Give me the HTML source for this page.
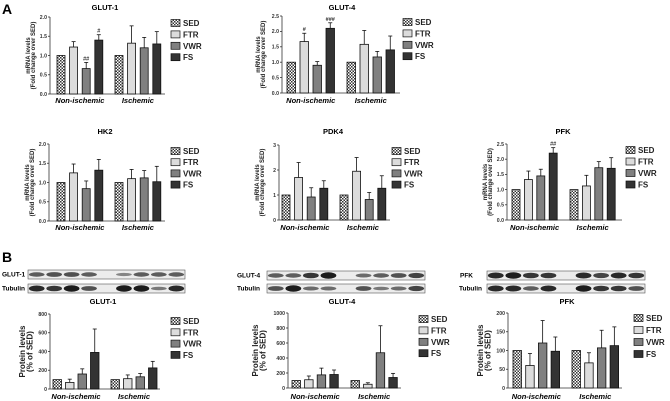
<!DOCTYPE html>
<html><head><meta charset="utf-8">
<style>
html,body{margin:0;padding:0;background:#fff;}
svg{display:block;font-family:"Liberation Sans",Arial,sans-serif;}
</style></head>
<body>
<svg id="fig" width="670" height="401" viewBox="0 0 670 401">
<defs>
<pattern id="chk" width="3" height="3" patternUnits="userSpaceOnUse">
<rect width="3" height="3" fill="#fff"/><rect width="1.5" height="1.5" fill="#333"/><rect x="1.5" y="1.5" width="1.5" height="1.5" fill="#333"/>
</pattern>
</defs>
<text x="2" y="14" font-size="14" font-weight="bold">A</text>
<text x="2" y="262" font-size="14" font-weight="bold">B</text>
</svg>
<script>
const series=['SED','FTR','VWR','FS'];
const groups=['Non-ischemic','Ischemic'];
// mRNA charts
const glut1mVal=[[1,1.22,0.66,1.40],[1,1.32,1.20,1.30]];
const glut1mErr=[[0,0.14,0.16,0.14],[0,0.45,0.27,0.32]];
const glut4mVal=[[1,1.67,0.90,2.10],[1,1.58,1.17,1.40]];
const glut4mErr=[[0,0.27,0.12,0.18],[0,0.45,0.18,0.45]];
const hk2Val=[[1,1.25,0.84,1.32],[1,1.10,1.12,1.02]];
const hk2Err=[[0,0.23,0.20,0.28],[0,0.24,0.19,0.40]];
const pdk4Val=[[1,1.70,0.92,1.27],[1,1.95,0.82,1.27]];
const pdk4Err=[[0,0.60,0.37,0.30],[0,0.55,0.28,0.50]];
const pfkmVal=[[1,1.33,1.45,2.20],[1,1.12,1.72,1.70]];
const pfkmErr=[[0,0.28,0.22,0.18],[0,0.35,0.20,0.35]];
// protein charts
const glut1pVal=[[100,70,160,390],[100,110,130,225]];
const glut1pErr=[[0,35,55,250],[0,40,35,70]];
const glut4pVal=[[100,110,175,180],[100,50,470,140]];
const glut4pErr=[[0,50,90,60],[0,20,360,55]];
const pfkpVal=[[100,60,120,98],[100,67,107,113]];
const pfkpErr=[[0,32,60,38],[0,27,47,50]];
// ticks
const ticks20=[0,0.5,1.0,1.5,2.0], ticks20L=['0.0','0.5','1.0','1.5','2.0'];
const ticks25=[0,0.5,1.0,1.5,2.0,2.5], ticks25L=['0.0','0.5','1.0','1.5','2.0','2.5'];
const ticks3=[0,1,2,3], ticks3L=['0','1','2','3'];
const ticks800=[0,200,400,600,800], ticks800L=['0','200','400','600','800'];
const ticks1000=[0,200,400,600,800,1000], ticks1000L=['0','200','400','600','800','1000'];
const ticks200=[0,50,100,150,200], ticks200L=['0','50','100','150','200'];
// annotations [group, series, text]
const glut1mAnn=[[0,2,'##'],[0,3,'#']];
const glut4mAnn=[[0,1,'#'],[0,3,'###']];
const pfkmAnn=[[0,3,'##']];

const fills=['url(#chk)','#dcdcdc','#808080','#333'];
const NS='http://www.w3.org/2000/svg';
const svg=document.getElementById('fig');
function mk(tag,attrs,parent){const e=document.createElementNS(NS,tag);for(const k in attrs)e.setAttribute(k,attrs[k]);(parent||svg).appendChild(e);return e;}

function chart(c){
  const g=mk('g',{});
  
  
  const yS=v=>c.y0-v/c.max*(c.y0-c.yTop);
  const t=mk('text',{x:c.titleX,y:c.titleY,'font-size':7.5,'font-weight':'bold','text-anchor':'middle'},g);
  t.textContent=c.title;
  
  
  const ya=mk('line',{x1:c.ax,x2:c.ax,y1:c.yTop,y2:c.y0,stroke:'#333','stroke-width':0.8},g);
  
  
  const xa=mk('line',{x1:c.ax,x2:c.xEnd,y1:c.y0,y2:c.y0,stroke:'#333','stroke-width':0.8},g);
  
  
  c.ticks.forEach((v,i)=>{
    const y=yS(v);
    mk('line',{x1:c.ax-2,x2:c.ax,y1:y,y2:y,stroke:'#333','stroke-width':0.8},g);
    const tl=mk('text',{x:c.ax-3,y:y+1.8,'font-size':5.2,'font-weight':'bold','text-anchor':'end',fill:'#333'},g);
    tl.textContent=c.tickL[i];
    
    
  });
  const cy=(c.yTop+c.y0)/2;
  c.ylab.forEach((s,i)=>{
    const yl=mk('text',{x:0,y:0,'font-size':c.ylabSize,'font-weight':'bold','text-anchor':'middle',fill:'#222',transform:`translate(${c.ylabX+i*c.ylabDx},${cy}) rotate(-90)`},g);
    yl.textContent=s;
    
    
  });
  c.vals.forEach((grp,gi)=>{
    const gx=c.gx[gi];
    grp.forEach((v,si)=>{
      const x=gx+si*c.step, y=yS(v), e=c.errs[gi][si];
      if(e>0){
        const ye=yS(v+e);
        mk('line',{x1:x+c.bw/2,x2:x+c.bw/2,y1:y,y2:ye,stroke:'#111','stroke-width':0.8},g);
        mk('line',{x1:x+c.bw/2-2,x2:x+c.bw/2+2,y1:ye,y2:ye,stroke:'#111','stroke-width':0.8},g);
      }
      const r=mk('rect',{x:x,y:y,width:c.bw,height:c.y0-y,fill:fills[si],stroke:'#111','stroke-width':0.8},g);
      
      
    });
    const gl=mk('text',{x:gx+1.5*c.step+c.bw/2,y:c.glY,'font-size':7.5,'font-weight':'bold','font-style':'italic','text-anchor':'middle'},g);
    gl.textContent=groups[gi];
    
    
  });
  (c.ann||[]).forEach(a=>{
    const v=c.vals[a[0]][a[1]]+c.errs[a[0]][a[1]];
    const at=mk('text',{x:c.gx[a[0]]+a[1]*c.step+c.bw/2,y:yS(v)-2,'font-size':5.5,'font-weight':'bold','text-anchor':'middle',fill:'#333'},g);
    at.textContent=a[2];
    
    
  });
  series.forEach((s,i)=>{
    const y=c.lgY+i*c.lgDy;
    const lr=mk('rect',{x:c.lgX,y:y-3.5,width:9,height:7,fill:fills[i],stroke:'#111','stroke-width':0.7},g);
    
    
    const lt=mk('text',{x:c.lgX+12,y:y+3,'font-size':8,'font-weight':'bold',fill:'#222'},g);
    lt.textContent=s;
    
    
  });
}
const mL=['mRNA levels','(Fold change over SED)'], pL=['Protein levels','(% of SED)'];
chart({id:'glut1-mrna',title:'GLUT-1',titleX:105,titleY:10,ax:50,yTop:17,y0:94,xEnd:165,max:2,ticks:ticks20,tickL:ticks20L,gx:[57,115],step:12.6,bw:8,vals:glut1mVal,errs:glut1mErr,ann:glut1mAnn,ylab:mL,ylabX:30,ylabDx:5,ylabSize:6,glY:103,lgX:171,lgY:23,lgDy:11.4});
chart({id:'glut4-mrna',title:'GLUT-4',titleX:342,titleY:10,ax:282,yTop:16,y0:93,xEnd:400,max:2.5,ticks:ticks25,tickL:ticks25L,gx:[287,347],step:13,bw:8.5,vals:glut4mVal,errs:glut4mErr,ann:glut4mAnn,ylab:mL,ylabX:260,ylabDx:5,ylabSize:6,glY:103,lgX:403,lgY:22,lgDy:11.4});
chart({id:'hk2-mrna',title:'HK2',titleX:105,titleY:134,ax:49,yTop:144,y0:221,xEnd:165,max:2,ticks:ticks20,tickL:ticks20L,gx:[57,115],step:12.6,bw:8,vals:hk2Val,errs:hk2Err,ylab:mL,ylabX:29,ylabDx:5,ylabSize:6,glY:230,lgX:171,lgY:151,lgDy:11.2});
chart({id:'pdk4-mrna',title:'PDK4',titleX:333,titleY:134,ax:279,yTop:145,y0:220,xEnd:390,max:3,ticks:ticks3,tickL:ticks3L,gx:[282,340],step:12.6,bw:8,vals:pdk4Val,errs:pdk4Err,ylab:mL,ylabX:259,ylabDx:5,ylabSize:6,glY:230,lgX:392,lgY:151,lgDy:11.2});
chart({id:'pfk-mrna',title:'PFK',titleX:563,titleY:134,ax:507,yTop:144,y0:220,xEnd:622,max:2.5,ticks:ticks25,tickL:ticks25L,gx:[512,570],step:12.4,bw:8,vals:pfkmVal,errs:pfkmErr,ann:pfkmAnn,ylab:mL,ylabX:487,ylabDx:5,ylabSize:6,glY:230,lgX:626,lgY:150,lgDy:11.5});
chart({id:'glut1-protein',title:'GLUT-1',titleX:103,titleY:304,ax:50,yTop:314,y0:389,xEnd:160,max:800,ticks:ticks800,tickL:ticks800L,gx:[53,111],step:12.5,bw:8.5,vals:glut1pVal,errs:glut1pErr,ylab:pL,ylabX:25,ylabDx:7.5,ylabSize:8,glY:399,lgX:171,lgY:321,lgDy:11.3});
chart({id:'glut4-protein',title:'GLUT-4',titleX:342,titleY:304,ax:288,yTop:313,y0:388,xEnd:401,max:1000,ticks:ticks1000,tickL:ticks1000L,gx:[292,351],step:12.6,bw:8.5,vals:glut4pVal,errs:glut4pErr,ylab:pL,ylabX:258,ylabDx:7.5,ylabSize:8,glY:399,lgX:419,lgY:319,lgDy:11.4});
chart({id:'pfk-protein',title:'PFK',titleX:567,titleY:304,ax:508,yTop:313,y0:388,xEnd:622,max:200,ticks:ticks200,tickL:ticks200L,gx:[513,572],step:12.7,bw:8.5,vals:pfkpVal,errs:pfkpErr,ylab:pL,ylabX:483,ylabDx:7.5,ylabSize:8,glY:399,lgX:634,lgY:318,lgDy:12});

const blotRows=[
 {name:'glut1-blot',label:'GLUT-1',lx:2,bx:28,bw:157,y:270,bands:[.5,.6,.6,.5,0,.2,.5,.5,.5]},
 {name:'glut1-tubulin-blot',label:'Tubulin',lx:2,bx:28,bw:157,y:284,bands:[.9,.8,1,.6,0,1,1,.3,.9]},
 {name:'glut4-blot',label:'GLUT-4',lx:237,bx:267,bw:158,y:271,bands:[.5,.5,.8,1,0,.4,.5,.6,.7]},
 {name:'glut4-tubulin-blot',label:'Tubulin',lx:237,bx:267,bw:158,y:284,bands:[.6,1,.4,.4,0,.6,.3,.4,.7]},
 {name:'pfk-blot',label:'PFK',lx:460,bx:487,bw:158,y:271,bands:[.9,1,.8,.8,0,.9,.7,.9,.8]},
 {name:'pfk-tubulin-blot',label:'Tubulin',lx:459,bx:487,bw:158,y:284,bands:[.9,.9,.5,.9,0,1,.8,.8,.6]}
];
blotRows.forEach(b=>{
  const g=mk('g',{});
  
  
  const t=mk('text',{x:b.lx,y:b.y+6.5,'font-size':6.5,'font-weight':'bold'},g);
  t.textContent=b.label;
  mk('rect',{x:b.bx,y:b.y,width:b.bw,height:9,fill:'#ececec',stroke:'#555','stroke-width':0.6},g);
  const lw=b.bw/9;
  b.bands.forEach((a,i)=>{
    if(a>0) mk('ellipse',{cx:b.bx+lw*(i+0.5),cy:b.y+4.5,rx:lw*0.45,ry:1.2+2*a,fill:'#111','fill-opacity':0.35+0.6*a},g);
  });
});
</script>
</body></html>
